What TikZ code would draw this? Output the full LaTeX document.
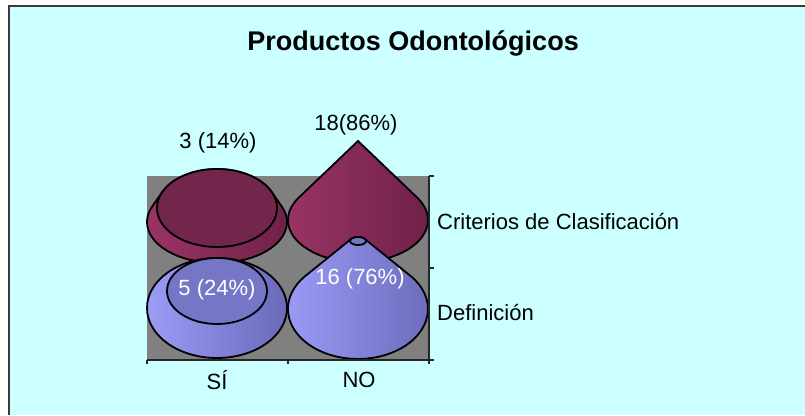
\documentclass[tikz,border=0pt]{standalone}
\usepackage{fontspec}
\setmainfont{Liberation Sans}
\definecolor{bgcyan}{HTML}{CCFFFF}
\definecolor{framegray}{HTML}{3A3A3A}
\definecolor{plotgray}{HTML}{808080}
\definecolor{axisgray}{HTML}{262626}
\definecolor{redtop}{HTML}{73264C}
\definecolor{redA}{HTML}{9A3466}
\definecolor{redB}{HTML}{8E2E5E}
\definecolor{redC}{HTML}{6C2047}
\definecolor{bluetop}{HTML}{7676C6}
\definecolor{blueA}{HTML}{9C9CF8}
\definecolor{blueB}{HTML}{9595F0}
\definecolor{blueC}{HTML}{6A6ABA}

\begin{document}
\begin{tikzpicture}[x=1pt,y=1pt,
    lbl/.style={font=\fontsize{22}{26}\selectfont, inner sep=0pt},
    outline/.style={draw=black, line width=1.8pt},
    redside/.style={left color=redA, middle color=redB, right color=redC},
    blueside/.style={left color=blueA, middle color=blueB, right color=blueC},
    axisline/.style={draw=axisgray, line width=1.3pt}]
    \useasboundingbox (0,0) rectangle (805,415);
    \fill[white] (0,0) rectangle (805,415);
    \fill[bgcyan] (9,0) rectangle (805,409);
    \draw[framegray, line width=2.5pt] (9,0) -- (9,409) -- (805,409);
    \node [font=\fontsize{27}{30}\selectfont\bfseries] (title) at (413,372) {Productos Odontológicos};
    \fill[plotgray] (147,55) rectangle (429,239);
    % Criterios de Clasificacion
    \shadedraw[redside, outline] (281.75,208.56) arc [start angle=22.3, end angle=-202.3, x radius=70, y radius=41]
        -- (162.4,223.16) arc [start angle=155.5, end angle=24.5, x radius=60, y radius=39] -- cycle;
    \filldraw[fill=redtop, outline] (217,207) ellipse [x radius=60, y radius=39];
    \shadedraw[redside, outline] (358,274) -- (417.3,217.3) arc [start angle=32.1, end angle=-212.1, x radius=70, y radius=42] -- cycle;
    % Definicion
    \shadedraw[blueside, outline] (217,107) ellipse [x radius=70, y radius=50];
    \filldraw[fill=bluetop, outline] (217,124) ellipse [x radius=50, y radius=33];
    \shadedraw[blueside, outline] (411.1,138.6) arc [start angle=40.6, end angle=-220.6, x radius=70, y radius=50]
        -- (351.9,176.6) arc [start angle=139.4, end angle=40.6, x radius=8, y radius=4] -- cycle;
    \filldraw[fill=bluetop, outline] (358,174) ellipse [x radius=8, y radius=4];
    % axes
    \draw[axisline] (429,239) -- (429,55) -- (147,55);
    \foreach \y in {55,147,239}
        \draw[axisline] (429,\y) -- (434,\y);
    \foreach \x in {147,288,429}
        \draw[axisline] (\x,55) -- (\x,51);
    \node [lbl] (si) at (217,35) {SÍ};
    \node [lbl] (no) at (359,35) {NO};
    \node [lbl, anchor=west] (crit) at (437,193) {Criterios de Clasificación};
    \node [lbl, anchor=west] (def) at (437,102) {Definición};
    \node [lbl] (siCrit) at (218,272) {3 (14\%)};
    \node [lbl] (noCrit) at (356,290) {18(86\%)};
    \node [lbl, white] (siDef) at (217,125) {5 (24\%)};
    \node [lbl, white] (noDef) at (360,136) {16 (76\%)};
\end{tikzpicture}
\end{document}
